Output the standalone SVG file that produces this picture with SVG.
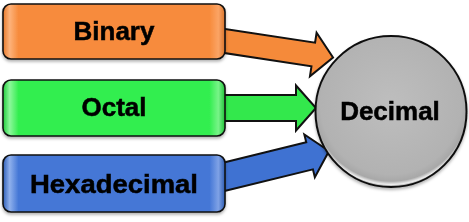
<svg xmlns="http://www.w3.org/2000/svg" width="469" height="222" viewBox="0 0 469 222">
<defs>
<style>
.box{stroke:#111;stroke-width:1.6}
.arrow{stroke:#111;stroke-width:2;stroke-linejoin:miter}
.lbl{font-family:"Liberation Sans",Arial,sans-serif;font-weight:bold;font-size:26px;fill:#000;stroke:#000;stroke-width:0.5;text-anchor:middle}
</style>
<linearGradient id="gO" x1="0" y1="0" x2="1" y2="0">
<stop offset="0" stop-color="#E87A2C"/><stop offset="0.03" stop-color="#FDB27A"/><stop offset="0.07" stop-color="#F78B3C"/><stop offset="0.93" stop-color="#F78B3C"/><stop offset="0.97" stop-color="#FBA465"/><stop offset="1" stop-color="#D9742C"/>
</linearGradient>
<linearGradient id="gG" x1="0" y1="0" x2="1" y2="0">
<stop offset="0" stop-color="#22CC3C"/><stop offset="0.03" stop-color="#8CF79A"/><stop offset="0.07" stop-color="#33EE50"/><stop offset="0.93" stop-color="#33EE50"/><stop offset="0.97" stop-color="#78F488"/><stop offset="1" stop-color="#22C23A"/>
</linearGradient>
<linearGradient id="gB" x1="0" y1="0" x2="1" y2="0">
<stop offset="0" stop-color="#2F5FB8"/><stop offset="0.03" stop-color="#8FB0EC"/><stop offset="0.07" stop-color="#4477D6"/><stop offset="0.93" stop-color="#4477D6"/><stop offset="0.97" stop-color="#7FA2E6"/><stop offset="1" stop-color="#2E5CB2"/>
</linearGradient>
<radialGradient id="gC" cx="0.5" cy="0.45" r="0.55">
<stop offset="0" stop-color="#BEBEBE"/><stop offset="0.85" stop-color="#B2B2B2"/><stop offset="0.93" stop-color="#A8A8A8"/><stop offset="0.97" stop-color="#EDEDED"/><stop offset="1" stop-color="#8A8A8A"/>
</radialGradient>
<filter id="sh" x="-10%" y="-10%" width="120%" height="130%">
<feDropShadow dx="0" dy="2" stdDeviation="1.5" flood-color="#000" flood-opacity="0.3"/>
</filter>
</defs>
<g id="connectors">
<path class="arrow" fill="#F58A3A" transform="translate(215,39.5) rotate(8.67)" d="M0,-12 L99.4,-12 L99.4,-22 L119.4,0 L99.4,22 L99.4,12 L0,12 Z"/>
<path class="arrow" fill="#33E84C" transform="translate(215,108)" d="M0,-13 L81,-13 L81,-22.5 L101,0 L81,22.5 L81,13 L0,13 Z"/>
<path class="arrow" fill="#3F72D2" transform="translate(215,179) rotate(-13.8)" d="M0,-14 L97.4,-14 L97.4,-22 L117.4,0 L97.4,22 L97.4,14 L0,14 Z"/>
</g>
<g id="binary" filter="url(#sh)">
<rect class="box" x="3" y="4" width="222" height="55" rx="8" fill="url(#gO)"/>
<text class="lbl" x="114" y="40">Binary</text>
</g>
<g id="octal" filter="url(#sh)">
<rect class="box" x="3" y="80" width="222" height="56" rx="8" fill="url(#gG)"/>
<text class="lbl" x="114" y="116">Octal</text>
</g>
<g id="hexadecimal" filter="url(#sh)">
<rect class="box" x="3" y="155" width="222" height="57" rx="8" fill="url(#gB)"/>
<text class="lbl" x="114" y="193" textLength="168" lengthAdjust="spacingAndGlyphs">Hexadecimal</text>
</g>
<g id="decimal" filter="url(#sh)">
<circle cx="391" cy="111.5" r="75.5" fill="url(#gC)" stroke="#111" stroke-width="2"/>
<text class="lbl" x="390" y="120">Decimal</text>
</g>
</svg>
